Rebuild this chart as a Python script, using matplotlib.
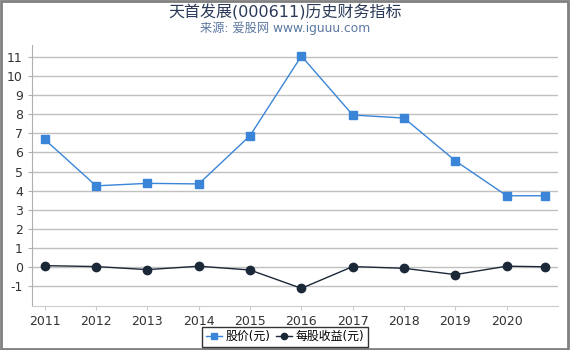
import matplotlib
matplotlib.use("Agg")
import matplotlib.pyplot as plt
from matplotlib.patches import Rectangle

plt.rcParams['font.family'] = ['DejaVu Sans', 'Noto Sans CJK SC']

x_pos = [2011, 2012, 2013, 2014, 2015, 2016, 2017, 2018, 2019, 2020, 2020.75]
price = [6.68, 4.25, 4.38, 4.35, 6.88, 11.05, 7.96, 7.8, 5.56, 3.73, 3.73]
eps = [0.07, 0.02, -0.14, 0.04, -0.16, -1.12, 0.02, -0.07, -0.40, 0.04, 0.01]
xticks = [2011, 2012, 2013, 2014, 2015, 2016, 2017, 2018, 2019, 2020]
yticks = list(range(-1, 12))
title = "天首发展(000611)历史财务指标"
subtitle = "来源: 爱股网 www.iguuu.com"
price_label = "股价(元)"
eps_label = "每股收益(元)"

fig = plt.figure(figsize=(5.7, 3.5), dpi=100)
ax = fig.add_axes([0.056, 0.126, 0.923, 0.745])

ax.plot(x_pos, price, color='#3a85d8', marker='s', markersize=6, linewidth=1,
        label=price_label, zorder=3)
ax.plot(x_pos, eps, color='#1b2838', marker='o', markersize=6, linewidth=1,
        label=eps_label, zorder=3)

ax.set_ylim(-2.04, 11.62)
ax.set_xlim(2010.75, 2021.0)
ax.set_yticks(yticks)
ax.set_yticklabels([str(v) for v in yticks])
ax.set_xticks(xticks)
ax.set_xticklabels([str(v) for v in xticks])
ax.grid(axis='y', color='#c0c0c0', linewidth=1)
ax.set_axisbelow(True)
for s in ['top', 'right']:
    ax.spines[s].set_visible(False)
ax.spines['left'].set_color('#b0b0b0')
ax.spines['bottom'].set_color('#cccccc')
ax.tick_params(axis='both', labelsize=9, colors='#333333', length=3, width=0.8)
ax.tick_params(axis='y', color='#b0b0b0')
ax.tick_params(axis='x', color='#cccccc')

fig.text(0.5, 0.966, title, ha='center', va='center', fontsize=11.5, color='#2a3a58')
fig.text(0.5, 0.918, subtitle, ha='center', va='center', fontsize=8.8, color='#5b78a0')

leg = fig.legend(loc='center', bbox_to_anchor=(0.5, 0.038), ncol=2, fontsize=8.6,
                 frameon=True, fancybox=False, edgecolor='black', handlelength=1.4,
                 handletextpad=0.3, columnspacing=0.4, borderpad=0.3, markerscale=0.75)
leg.get_frame().set_linewidth(1)

fig.patches.append(Rectangle((0.001, 0.003), 0.995, 0.995, transform=fig.transFigure,
                             fill=False, edgecolor='#808080', linewidth=2))

fig.savefig('out.png', dpi=100)
